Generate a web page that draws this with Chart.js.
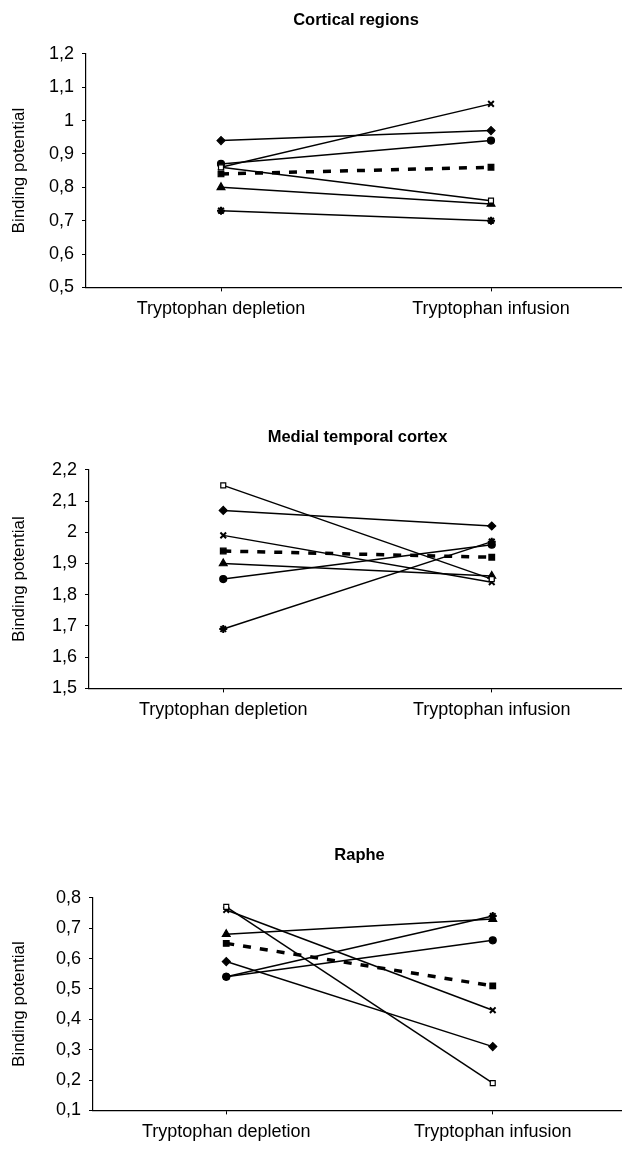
<!DOCTYPE html>
<html>
<head>
<meta charset="utf-8">
<script src="https://cdn.jsdelivr.net/npm/chart.js@4.4.1/dist/chart.umd.min.js"></script>
<style>
  body { margin: 0; background: #fff; width: 622px; height: 1151px; position: relative; overflow: hidden; }
  .box { position: absolute; left: 0; width: 632px; }
</style>
</head>
<body>
<div class="box" style="top:0;height:330px"><canvas id="c1"></canvas></div>
<div class="box" style="top:415px;height:320px"><canvas id="c2"></canvas></div>
<div class="box" style="top:820px;height:331px"><canvas id="c3"></canvas></div>
<script>
// categories
const categories = ['Tryptophan depletion', 'Tryptophan infusion'];

// order of series: diamond, open square, triangle, x, star, circle, mean (dashed)
const corticalDepletion = [0.94, 0.86, 0.80, 0.86, 0.73, 0.87, 0.84];
const corticalInfusion  = [0.97, 0.76, 0.75, 1.05, 0.70, 0.94, 0.86];
const medialDepletion   = [2.07, 2.15, 1.90, 1.99, 1.69, 1.85, 1.94];
const medialInfusion    = [2.02, 1.85, 1.86, 1.84, 1.97, 1.96, 1.92];
const rapheDepletion    = [0.59, 0.77, 0.68, 0.76, 0.54, 0.54, 0.65];
const rapheInfusion     = [0.31, 0.19, 0.73, 0.43, 0.74, 0.66, 0.51];

// y axis ranges (min, max, step)
const corticalTicks = [0.5, 1.2, 0.1];
const medialTicks   = [1.5, 2.2, 0.1];
const rapheTicks    = [0.1, 0.8, 0.1];

const styles = [
  { pointStyle: 'rectRot',  radius: 4,   fill: '#000' },
  { pointStyle: 'rect',     radius: 3.5, fill: '#fff' },
  { pointStyle: 'triangle', radius: 4.5, fill: '#000' },
  { pointStyle: 'crossRot', radius: 4,   fill: '#000' },
  { pointStyle: 'star',     radius: 4,   fill: '#000' },
  { pointStyle: 'circle',   radius: 3.5, fill: '#000' },
  { pointStyle: 'rect',     radius: 4,   fill: '#000' },
];

const fmt = v => Number(v.toFixed(1)).toString().replace('.', ',');

function makeChart(id, title, dep, inf, ticks, pad) {
  const datasets = dep.map((d, i) => {
    const s = styles[i];
    const isMean = i === dep.length - 1;
    return {
      data: [d, inf[i]],
      borderColor: '#000',
      borderWidth: isMean ? 3.5 : 1.5,
      borderDash: isMean ? [8, 9] : [],
      pointStyle: s.pointStyle,
      pointRadius: s.radius,
      pointBackgroundColor: s.fill,
      pointBorderColor: '#000',
      pointBorderWidth: s.pointStyle === 'crossRot' || s.pointStyle === 'star' ? 2 : 1.2,
      tension: 0,
    };
  });

  new Chart(document.getElementById(id), {
    type: 'line',
    data: { labels: categories, datasets },
    options: {
      responsive: true,
      maintainAspectRatio: false,
      animation: false,
      layout: { padding: { left: 0, right: 0, top: 0, bottom: pad.bottom } },
      plugins: {
        legend: { display: false },
        tooltip: { enabled: false },
        title: {
          display: true,
          text: title,
          fullSize: false,
          color: '#000',
          font: { family: 'Arial', size: 16.5, weight: 'bold' },
          padding: { top: pad.titleTop, bottom: pad.titleBottom },
        },
      },
      scales: {
        x: {
          offset: true,
          grid: { drawOnChartArea: false, drawTicks: true, tickLength: 4, color: '#000', offset: false },
          border: { display: true, color: '#000', width: 1.2 },
          ticks: { color: '#000', font: { family: 'Arial', size: 18 }, padding: 7, maxRotation: 0 },
          afterFit: s => { s.paddingLeft = 0; s.paddingRight = 0; },
        },
        y: {
          min: ticks[0],
          max: ticks[1],
          grid: { drawOnChartArea: false, drawTicks: true, tickLength: 4, color: '#000' },
          border: { display: true, color: '#000', width: 1.2 },
          ticks: { stepSize: ticks[2], color: '#000', font: { family: 'Arial', size: 18 }, padding: 8, callback: v => fmt(v) },
          title: {
            display: true,
            text: 'Binding potential',
            color: '#000',
            font: { family: 'Arial', size: 17 },
            padding: { top: 9, bottom: 0 },
          },
          afterFit: s => { s.width = pad.left; s.paddingTop = 0; s.paddingBottom = 0; },
        },
      },
    },
  });
}

makeChart('c1', 'Cortical regions', corticalDepletion, corticalInfusion, corticalTicks,
  { titleTop: 11, titleBottom: 23, bottom: 3, left: 86 });
makeChart('c2', 'Medial temporal cortex', medialDepletion, medialInfusion, medialTicks,
  { titleTop: 13, titleBottom: 22, bottom: 7, left: 89 });
makeChart('c3', 'Raphe', rapheDepletion, rapheInfusion, rapheTicks,
  { titleTop: 26, titleBottom: 32, bottom: 1, left: 93 });
</script>
</body>
</html>
